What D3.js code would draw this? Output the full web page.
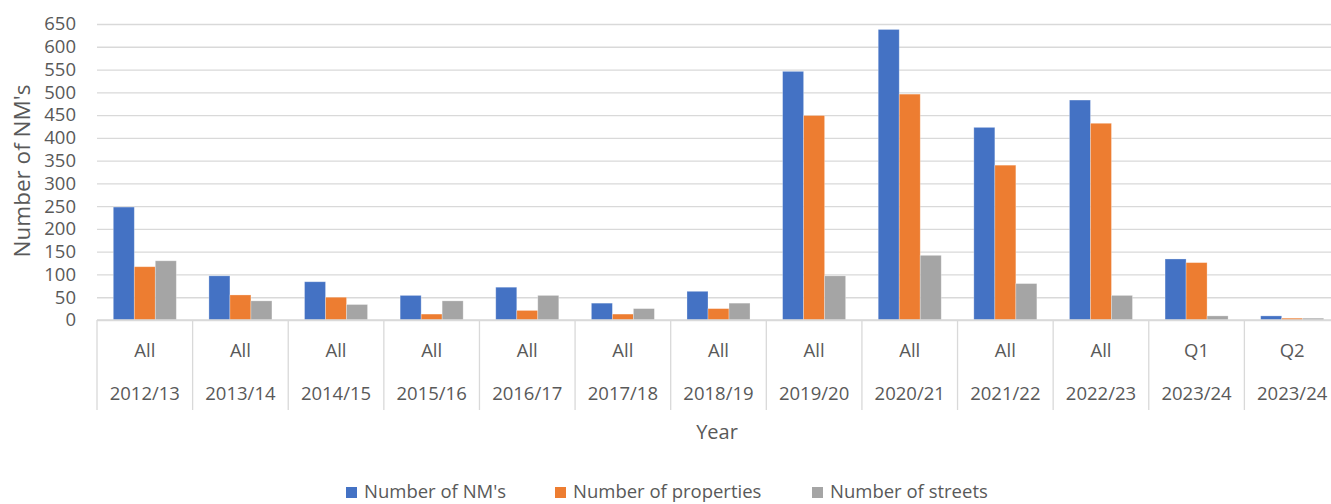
<!DOCTYPE html>
<html>
<head>
<meta charset="utf-8">
<script src="https://cdn.jsdelivr.net/npm/d3@7"></script>
<style>
  html, body { margin: 0; padding: 0; background: #fff; }
  svg { display: block; }
  text { font-family: "Open Sans", sans-serif; fill: #595959; }
</style>
</head>
<body>
<svg id="chart" width="1331" height="504"></svg>
<script>
const periods = ["All","All","All","All","All","All","All","All","All","All","All","Q1","Q2"];
const years = ["2012/13","2013/14","2014/15","2015/16","2016/17","2017/18","2018/19","2019/20","2020/21","2021/22","2022/23","2023/24","2023/24"];
const seriesNames = ["Number of NM's","Number of properties","Number of streets"];
const nms =        [248, 97, 84, 54, 72, 37, 63, 546, 638, 423, 483, 134, 9];
const properties = [117, 55, 50, 13, 21, 13, 25, 449, 496, 340, 432, 126, 4];
const streets =    [130, 42, 34, 42, 54, 25, 37, 97, 142, 80, 54, 9, 4];
const yTicks = [0,50,100,150,200,250,300,350,400,450,500,550,600,650];
const colors = ["#4472C4","#ED7D31","#A5A5A5"];

(function () {
const svg = d3.select("#chart");
const pLeft = 97, pRight = 1340, pTop = 24, pBottom = 320;
const idx = d3.range(periods.length);
const x = d3.scaleBand().domain(idx).range([pLeft, pRight]).paddingInner(0).paddingOuter(0);
const xi = d3.scaleBand().domain(d3.range(3)).range([0, x.bandwidth()]).paddingInner(0).paddingOuter(0.776);
const y = d3.scaleLinear().domain([0, 650]).range([pBottom, pTop]);
const fs = 18.5;

// gridlines + y labels
const yAxis = d3.axisLeft(y).tickValues(yTicks).tickSize(-(pRight - pLeft)).tickPadding(21).tickFormat(d3.format("d"));
const gy = svg.append("g").attr("transform", `translate(${pLeft},0)`).call(yAxis);
gy.select(".domain").remove();
gy.selectAll(".tick line").attr("stroke", "#d9d9d9").attr("stroke-width", 1.3);
gy.selectAll(".tick text").attr("font-size", fs).attr("fill", "#595959").attr("font-family", "Open Sans, sans-serif");

// bars
const data = [nms, properties, streets];
const groups = svg.append("g").selectAll("g").data(data).join("g").attr("fill", (d, i) => colors[i]);
groups.each(function(vals, s) {
  d3.select(this).selectAll("rect").data(vals).join("rect")
    .attr("x", (v, i) => x(i) + xi(s))
    .attr("width", xi.bandwidth())
    .attr("y", v => y(v))
    .attr("height", v => y(0) - y(v))
    .attr("stroke", "#ffffff").attr("stroke-opacity", 0.35).attr("stroke-width", 0.8);
});

// x axis line
svg.append("line").attr("x1", pLeft).attr("x2", pRight).attr("y1", y(0)).attr("y2", y(0))
  .attr("stroke", "#d9d9d9").attr("stroke-width", 1.3);

// category separators
const seps = idx.map(i => x(i)).concat([pRight]);
svg.append("g").selectAll("line").data(seps).join("line")
  .attr("x1", d => d).attr("x2", d => d).attr("y1", y(0)).attr("y2", 410)
  .attr("stroke", "#d9d9d9").attr("stroke-width", 1.3);

// labels
const lab = svg.append("g").attr("text-anchor", "middle").attr("font-size", fs);
lab.selectAll("text.p").data(periods).join("text").attr("class", "p")
  .attr("x", (d, i) => x(i) + x.bandwidth() / 2).attr("y", 357).text(d => d);
lab.selectAll("text.yr").data(years).join("text").attr("class", "yr")
  .attr("x", (d, i) => x(i) + x.bandwidth() / 2).attr("y", 400).text(d => d);

// axis titles
svg.append("text").attr("x", 717).attr("y", 439).attr("text-anchor", "middle")
  .attr("font-size", 20).text("Year");
svg.append("text").attr("transform", `translate(30,171) rotate(-90)`)
  .attr("text-anchor", "middle").attr("font-size", 22.5).text("Number of NM's");

// legend
const legX = [346, 555, 812];
const leg = svg.append("g");
seriesNames.forEach((n, i) => {
  leg.append("rect").attr("x", legX[i]).attr("y", 487).attr("width", 11).attr("height", 11).attr("fill", colors[i]);
  leg.append("text").attr("x", legX[i] + 18).attr("y", 498).attr("font-size", fs).text(n);
});
})();
</script>
</body>
</html>
